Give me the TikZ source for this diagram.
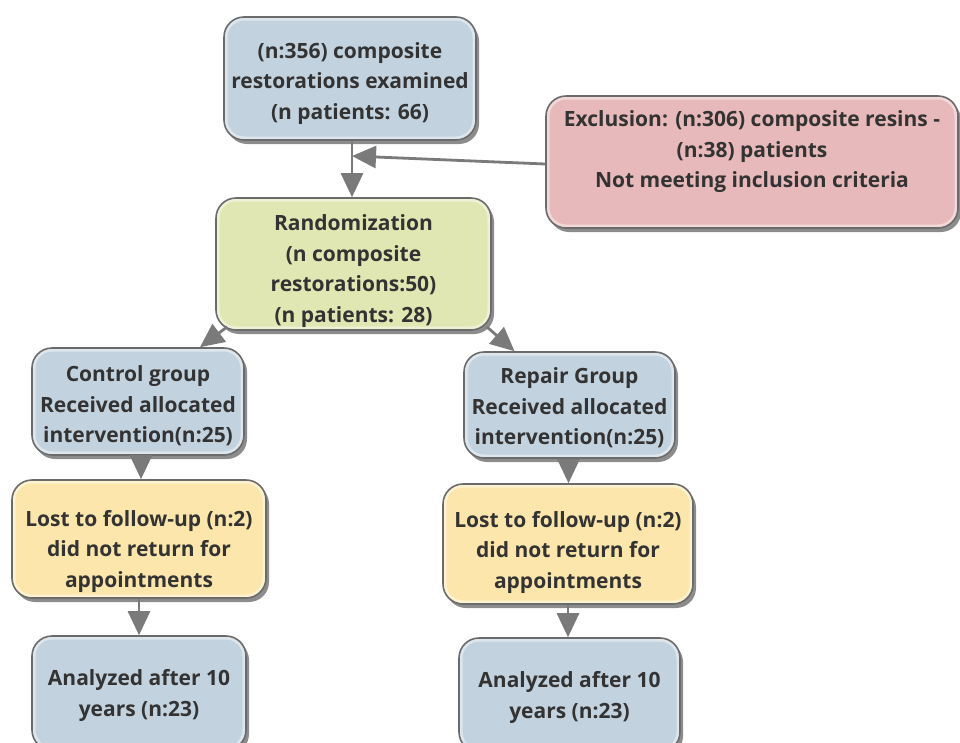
\documentclass[tikz,border=0pt]{standalone}
\usepackage{fontspec}
\setmainfont{Open Sans}[BoldFont=* Bold]
\usetikzlibrary{arrows.meta,shadows,calc}
\definecolor{txtc}{HTML}{333333}
\definecolor{bordc}{HTML}{6B6B6B}
\definecolor{arrc}{HTML}{7A7A7A}
\definecolor{blueF}{HTML}{C3D2DF}
\definecolor{greenF}{HTML}{E1E7B3}
\definecolor{redF}{HTML}{E8B9BA}
\definecolor{yellowF}{HTML}{FCE6AB}
\tikzset{
  boxst/.style={draw=bordc, line width=1.6pt, rounded corners=20pt, inner sep=0pt,
    drop shadow={shadow xshift=3pt, shadow yshift=-4pt, fill=black!75, opacity=0.6},
    path picture={\draw[white, opacity=0.45, line width=7pt, rounded corners=20pt]
      (path picture bounding box.south west) rectangle (path picture bounding box.north east);}},
  txtst/.style={font=\fontsize{21}{30.5}\selectfont\bfseries, text=txtc, align=center, inner sep=0pt},
  arr/.style={draw=arrc, line width=2.8pt, -{Triangle[width=22pt,length=24pt]}, arrc},
}
\begin{document}
\begin{tikzpicture}[x=1pt,y=-1pt]
\useasboundingbox (0,0) rectangle (960,742);
% boxes
\node[boxst, fill=blueF, minimum width=252pt, minimum height=123pt] (top) at (350,78.5) {};
\node[txtst] (topt) at (350,83.5) {(n:356) composite\\restorations examined\\(n patients: 66)};
\node[boxst, fill=redF, minimum width=412pt, minimum height=132pt] (excl) at (752,162) {};
\node[txtst] (exclt) at (752,152) {Exclusion: (n:306) composite resins -\\(n:38) patients\\Not meeting inclusion criteria};
\node[boxst, fill=greenF, minimum width=275pt, minimum height=132pt] (rand) at (353.5,264) {};
\node[txtst] (randt) at (353.5,271) {Randomization\\(n composite\\restorations:50)\\(n patients: 28)};
\node[boxst, fill=blueF, minimum width=212pt, minimum height=107pt] (ctrl) at (138,401.5) {};
\node[txtst] (ctrlt) at (138,406) {Control group\\Received allocated\\intervention(n:25)};
\node[boxst, fill=blueF, minimum width=211pt, minimum height=106pt] (rep) at (569.5,405) {};
\node[txtst] (rept) at (569.5,408) {Repair Group\\Received allocated\\intervention(n:25)};
\node[boxst, fill=yellowF, minimum width=254pt, minimum height=118pt] (lostL) at (139,539) {};
\node[txtst] (lostLt) at (139,551) {Lost to follow-up (n:2)\\did not return for\\appointments};
\node[boxst, fill=yellowF, minimum width=250pt, minimum height=120pt] (lostR) at (568,544) {};
\node[txtst] (lostRt) at (568,552) {Lost to follow-up (n:2)\\did not return for\\appointments};
\node[boxst, fill=blueF, minimum width=214pt, minimum height=114pt] (anaL) at (139,693) {};
\node[txtst] (anaLt) at (139,695.5) {Analyzed after 10\\years (n:23)};
\node[boxst, fill=blueF, minimum width=221pt, minimum height=114pt] (anaR) at (569.5,695) {};
\node[txtst] (anaRt) at (569.5,697.5) {Analyzed after 10\\years (n:23)};
% connectors
\coordinate (j) at (352,156);
\draw[arr] ([xshift=2pt]top.south) -- ([xshift=2pt]top.south |- rand.north);
\draw[arr] ([yshift=-2pt]excl.west) -- (j);
\draw[arr] ([shift={(12,-4)}]rand.south west) -- ([xshift=62pt]ctrl.north);
\draw[arr] ([shift={(-5,-4)}]rand.south east) -- ([xshift=-55pt]rep.north);
\draw[arr] ([xshift=3pt]ctrl.south) -- ([xshift=3pt]ctrl.south |- lostL.north);
\draw[arr] (lostL.south) -- (lostL.south |- anaL.north);
\draw[arr] ([xshift=-1pt]rep.south) -- ([xshift=-1pt]rep.south |- lostR.north);
\draw[arr] (lostR.south) -- (lostR.south |- anaR.north);
\end{tikzpicture}
\end{document}
